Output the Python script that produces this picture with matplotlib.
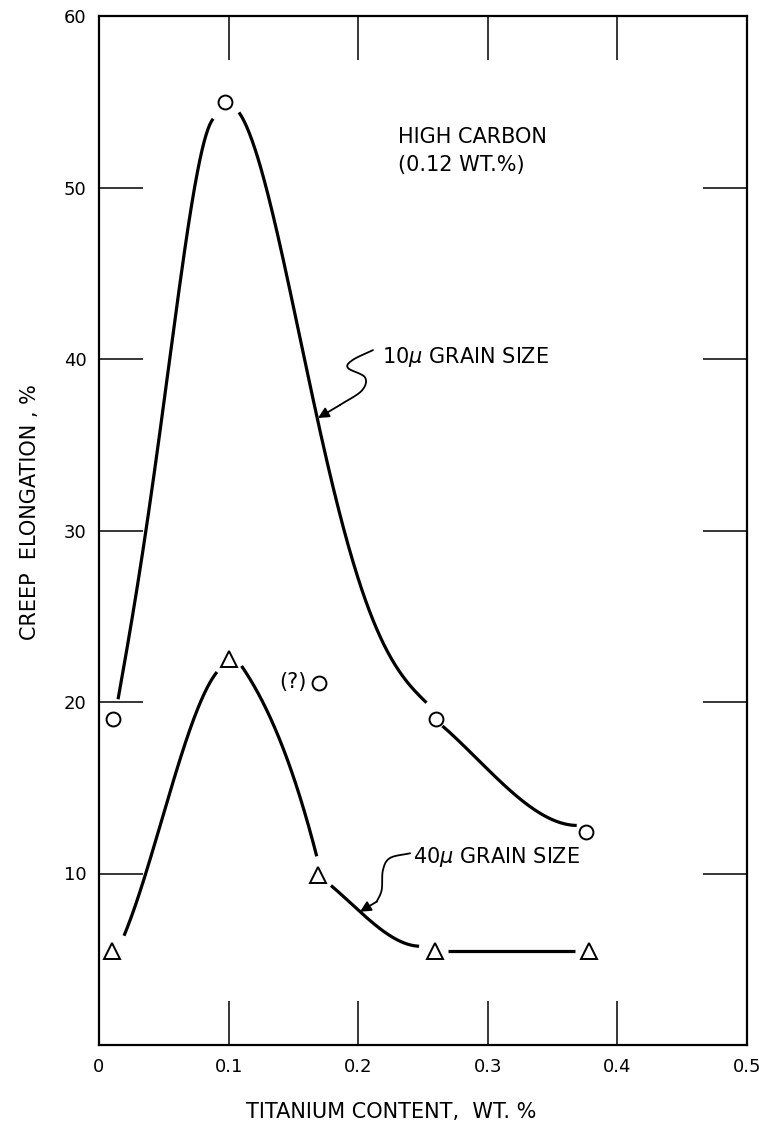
# /// script
# requires-python = ">=3.12"
# dependencies = [
#     "matplotlib",
# ]
# ///
import matplotlib.pyplot as plt
import numpy as np

# measured points, 10 micron grain size (circles)
ti_10 = [0.011, 0.097, 0.26, 0.376]
creep_10 = [19.0, 55.0, 19.0, 12.4]
# doubtful point, marked "(?)"
ti_q = [0.170]
creep_q = [21.1]

# measured points, 40 micron grain size (triangles)
ti_40 = [0.010, 0.100, 0.169, 0.259, 0.378]
creep_40 = [5.5, 22.5, 9.9, 5.5, 5.5]

# hand-faired curves, traced as separate strokes between the points
curve_10 = [
    ([0.0147, 0.023, 0.032, 0.040, 0.046, 0.0567, 0.0721, 0.0799, 0.0881],
     [20.0, 24.1, 27.9, 31.8, 34.75, 41.7, 49.5, 51.8, 54.2]),
    ([0.108, 0.118, 0.131, 0.1415, 0.149, 0.157, 0.168, 0.180, 0.193, 0.211, 0.232, 0.2527],
     [54.7, 52.2, 49.3, 46.4, 43.5, 40.6, 36.7, 32.6, 28.75, 24.9, 21.9, 19.9]),
    ([0.265, 0.2836, 0.309, 0.3346, 0.3686],
     [18.6, 17.3, 15.4, 13.8, 12.8]),
]
curve_40 = [
    ([0.0193, 0.036, 0.046, 0.062, 0.077, 0.091],
     [6.4, 9.9, 12.5, 16.7, 19.6, 21.8]),
    ([0.110, 0.129, 0.144, 0.157, 0.168],
     [22.1, 19.6, 16.9, 14.0, 11.0]),
    ([0.179, 0.201, 0.224, 0.247],
     [9.3, 7.8, 6.4, 5.76]),
    ([0.269, 0.367],
     [5.5, 5.5]),
]

x_ticks = [0, 0.1, 0.2, 0.3, 0.4, 0.5]
x_labels = ["0", "0.1", "0.2", "0.3", "0.4", "0.5"]
y_ticks = [10, 20, 30, 40, 50, 60]
y_labels = ["10", "20", "30", "40", "50", "60"]

# squiggly leader lines for the curve labels (last point is the arrow tip)
leader_10 = ([0.2114, 0.1957, 0.1921, 0.2052, 0.2027, 0.1860, 0.1690],
             [40.52, 39.94, 39.48, 38.93, 38.15, 37.32, 36.56])
leader_40 = ([0.2400, 0.2245, 0.2191, 0.2181, 0.2143, 0.2014],
             [11.18, 10.90, 10.20, 9.04, 8.36, 7.77])


def catmull_rom(xs, ys, n=24):
    p = np.column_stack([xs, ys]).astype(float)
    if len(p) < 3:
        return p[:, 0], p[:, 1]
    p = np.vstack([2 * p[0] - p[1], p, 2 * p[-1] - p[-2]])
    t = np.linspace(0, 1, n, endpoint=False)[:, None]
    out = []
    for i in range(1, len(p) - 2):
        p0, p1, p2, p3 = p[i - 1], p[i], p[i + 1], p[i + 2]
        out.append(0.5 * (2 * p1 + (-p0 + p2) * t
                          + (2 * p0 - 5 * p1 + 4 * p2 - p3) * t ** 2
                          + (-p0 + 3 * p1 - 3 * p2 + p3) * t ** 3))
    out.append(p[-2][None])
    out = np.vstack(out)
    return out[:, 0], out[:, 1]


def faired(xs, ys, n=200):
    # smooth stroke: low-order polynomial fit through the traced points
    if len(xs) >= 8:
        deg = 4
    else:
        deg = min(3, len(xs) - 1)
    coef = np.polyfit(xs, ys, deg)
    fx = np.linspace(xs[0], xs[-1], n)
    return fx, np.polyval(coef, fx)


def draw_leader(ax, xs, ys):
    sx, sy = catmull_rom(xs[:-1], ys[:-1])
    ax.plot(sx, sy, color="black", lw=1.3, solid_capstyle="round")
    ax.annotate("", xy=(xs[-1], ys[-1]), xytext=(xs[-2], ys[-2]),
                arrowprops=dict(arrowstyle="-|>", lw=1.3, color="black",
                                mutation_scale=16, shrinkA=0, shrinkB=0))


def main() -> None:
    plt.rcParams["font.family"] = ["DejaVu Sans"]
    fig = plt.figure(figsize=(7.59, 11.31), dpi=100)
    ax = fig.add_axes([99 / 759, 1 - 1045 / 1131, 648 / 759, 1029 / 1131])

    for xs, ys in curve_10 + curve_40:
        sx, sy = faired(xs, ys)
        ax.plot(sx, sy, color="black", lw=2.3, solid_capstyle="butt")

    marker_style = dict(linestyle="none", markerfacecolor="white",
                        markeredgecolor="black", markeredgewidth=1.4, zorder=3)
    ax.plot(ti_10, creep_10, marker="o", markersize=10, **marker_style)
    ax.plot(ti_q, creep_q, marker="o", markersize=10, **marker_style)
    ax.plot(ti_40, creep_40, marker="^", markersize=11, **marker_style)

    ax.annotate("(?)", xy=(ti_q[0], creep_q[0]), xytext=(-9, 1),
                textcoords="offset points", ha="right", va="center", fontsize=15)

    draw_leader(ax, *leader_10)
    draw_leader(ax, *leader_40)
    ax.text(0.2184, 40.12, "10$\\mu$ GRAIN SIZE", fontsize=15, va="center", ha="left")
    ax.text(0.2423, 10.96, "40$\\mu$ GRAIN SIZE", fontsize=15, va="center", ha="left")
    ax.text(0.2307, 53.5, "HIGH CARBON\n(0.12 WT.%)", fontsize=15, va="top",
            ha="left", linespacing=1.45)

    ax.set_xlim(0, 0.5)
    ax.set_ylim(0, 60)
    ax.set_xticks(x_ticks, x_labels)
    ax.set_yticks(y_ticks, y_labels)
    ax.tick_params(direction="in", length=32, width=1.1, labelsize=13,
                   top=True, right=True, pad=9)
    for s in ax.spines.values():
        s.set_linewidth(1.6)

    fig.text(391 / 759, 1 - 1112 / 1131, "TITANIUM CONTENT,  WT. %",
             ha="center", va="center", fontsize=15)
    fig.text(30 / 759, 1 - 512 / 1131, "CREEP  ELONGATION , %",
             ha="center", va="center", rotation=90, fontsize=15)

    fig.savefig("out.png", dpi=100)


if __name__ == "__main__":
    main()
